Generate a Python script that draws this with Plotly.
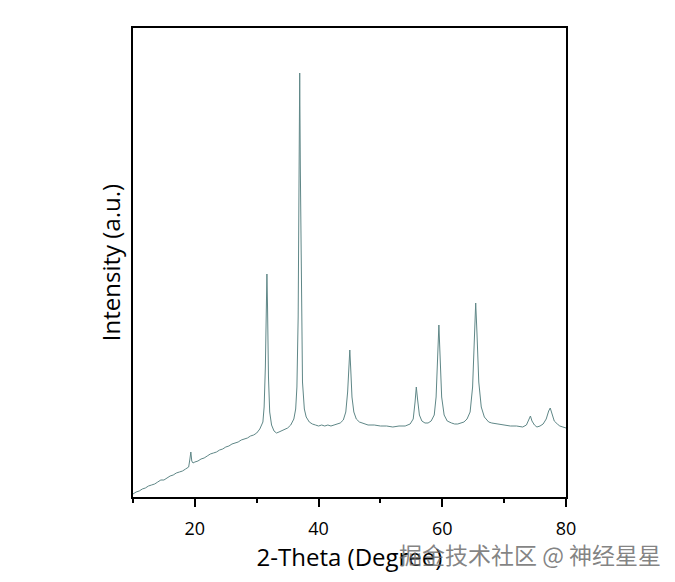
import plotly.graph_objects as go

two_theta = [10.0, 10.5, 11.0, 11.5, 12.0, 12.5, 13.0, 13.5, 14.0, 14.5, 15.0, 15.5, 16.0, 16.5,
             17.0, 17.5, 18.0, 18.5, 19.0, 19.2, 19.35, 19.5, 19.7, 20.0, 20.5, 21.0, 21.5, 22.0,
             22.5, 23.0, 23.5, 24.0, 24.5, 25.0, 25.5, 26.0, 26.5, 27.0, 27.5, 28.0, 28.5, 29.0,
             29.5, 30.0, 30.5, 31.0, 31.2, 31.4, 31.55, 31.65, 31.75, 31.9, 32.1, 32.4, 32.8,
             33.2, 33.6, 34.0, 34.5, 35.0, 35.5, 36.0, 36.3, 36.5, 36.7, 36.85, 36.95, 37.05,
             37.2, 37.4, 37.7, 38.0, 38.5, 39.0, 39.5, 40.0, 40.5, 41.0, 41.5, 42.0, 42.5, 43.0,
             43.5, 44.0, 44.4, 44.7, 44.9, 45.05, 45.2, 45.4, 45.7, 46.1, 46.6, 47.0, 47.5, 48.0,
             49.0, 50.0, 51.0, 52.0, 53.0, 54.0, 54.8, 55.3, 55.6, 55.8, 56.0, 56.3, 56.7, 57.2,
             57.7, 58.2, 58.7, 59.0, 59.25, 59.45, 59.65, 59.9, 60.3, 60.8, 61.5, 62.0, 62.5,
             63.0, 63.5, 64.0, 64.5, 64.9, 65.2, 65.4, 65.6, 65.9, 66.3, 66.8, 67.5, 68.0, 69.0,
             70.0, 71.0, 72.0, 73.0, 73.6, 74.0, 74.25, 74.5, 74.9, 75.3, 75.8, 76.3, 76.8, 77.2,
             77.45, 77.7, 78.1, 78.6, 79.0, 79.5, 80.0]

intensity = [3, 5, 6, 8, 9, 11, 12, 13, 15, 17, 17, 19, 21, 22,
             24, 25, 26, 28, 30, 38, 45, 36, 34, 35, 36, 38, 39, 41,
             43, 44, 45, 47, 48, 50, 51, 53, 54, 55, 57, 58, 59, 61,
             62, 64, 68, 75, 90, 130, 190, 223, 190, 120, 85, 72, 66,
             64, 65, 66, 67, 69, 72, 78, 88, 110, 180, 320, 424, 330,
             190, 115, 88, 80, 75, 73, 72, 71, 72, 71, 72, 71, 72, 73,
             74, 77, 85, 105, 135, 147, 128, 100, 85, 78, 75, 74, 73, 72,
             72, 71, 71, 70, 71, 71, 73, 78, 95, 110, 98, 82, 76, 74,
             74, 76, 82, 100, 140, 172, 140, 100, 82, 76, 74, 73, 73,
             74, 75, 78, 85, 110, 160, 194, 165, 115, 90, 80, 75, 74, 73,
             72, 71, 71, 70, 72, 77, 81, 76, 72, 70, 71, 73, 78, 86,
             89, 84, 76, 73, 71, 70, 69]

x_tick_vals = [20, 40, 60, 80]
x_tick_text = ["20", "40", "60", "80"]

fig = go.Figure()
fig.add_trace(go.Scatter(x=two_theta, y=intensity, mode="lines",
                         line=dict(color="#5f8787", width=1), showlegend=False))

fig.update_layout(
    width=659, height=566,
    margin=dict(l=125, r=101, t=20, b=77),
    paper_bgcolor="white", plot_bgcolor="white",
    font=dict(family="Open Sans", color="black"),
    xaxis=dict(range=[10, 80], tickvals=x_tick_vals, ticktext=x_tick_text,
               ticks="outside", ticklen=8, tickwidth=1.5, tickcolor="black",
               ticklabelstandoff=7,
               minor=dict(dtick=10, tick0=10, ticks="outside", ticklen=4, tickwidth=1.5, tickcolor="black"),
               showline=True, linecolor="black", linewidth=1.5, mirror=True,
               showgrid=False, zeroline=False,
               tickfont=dict(size=18),
               title=dict(text="2-Theta (Degree)", font=dict(size=24), standoff=0)),
    yaxis=dict(range=[0, 469], showticklabels=False, ticks="",
               showline=True, linecolor="black", linewidth=1.5, mirror=True,
               showgrid=False, zeroline=False,
               title=dict(text="Intensity (a.u.)", font=dict(size=24), standoff=4)),
    annotations=[dict(text="掘金技术社区 @ 神经星星", xref="paper", yref="paper",
                      x=0.61, y=-0.121, xanchor="left", yanchor="middle", showarrow=False,
                      font=dict(family="Noto Sans CJK SC", size=23, color="rgba(110,110,110,0.85)"))],
)

fig.write_html("out.html")
